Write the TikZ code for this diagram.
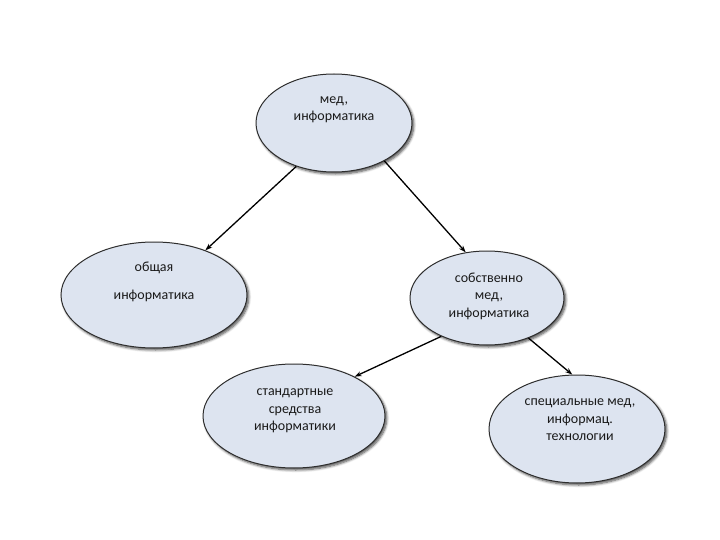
\documentclass[tikz,border=0pt]{standalone}
\usepackage{fontspec}
\setmainfont{Carlito}
\usepackage{tikz}
\usetikzlibrary{arrows.meta, positioning, shapes.geometric, shadows.blur}
\definecolor{bubblefill}{HTML}{DDE4F0}
\definecolor{bubbleline}{HTML}{2E2E2E}
\definecolor{inktext}{HTML}{1A1A1A}

\tikzset{
  bubble/.style={ellipse, draw=bubbleline, line width=1pt, fill=bubblefill,
    inner sep=0pt, blur shadow={shadow xshift=1.8pt, shadow yshift=-2pt,
    shadow blur radius=2.5pt, shadow blur steps=6, shadow opacity=70}},
  bubbletext/.style={align=center, font=\fontsize{14}{17.5}\selectfont,
    text=inktext, inner sep=0pt},
  link/.style={line width=1.3pt, -{Stealth[length=7pt, width=5pt]}}
}

\begin{document}
\begin{tikzpicture}[x=1pt, y=-1pt]
\useasboundingbox (0,0) rectangle (720,540);

% ellipses
\node[bubble, minimum width=156pt, minimum height=98pt] (med) at (334,123) {};
\node[bubble, minimum width=186pt, minimum height=106pt] (general) at (154,295) {};
\node[bubble, minimum width=154pt, minimum height=94pt] (proper) at (487,298) {};
\node[bubble, minimum width=182pt, minimum height=104pt] (standard) at (294,416) {};
\node[bubble, minimum width=176pt, minimum height=108pt] (special) at (577,429) {};

% texts
\node[bubbletext] (medtxt) at (334,110) {мед,\\информатика};
\node[bubbletext] (generaltxt) at (154,282) {общая\\[10pt]информатика};
\node[bubbletext] (propertxt) at (489,296) {собственно\\мед,\\информатика};
\node[bubbletext] (standardtxt) at (295,411) {стандартные\\средства\\информатики};
\node[bubbletext] (specialtxt) at (580,420) {специальные мед,\\информац.\\технологии};

% arrows
\draw[link] (med.-131) -- (general.41);
\draw[link] (med.-37) -- (proper.115);
\draw[link] (proper.-140) -- (standard.33);
\draw[link] (proper.-44) -- (special.95);
\end{tikzpicture}
\end{document}
